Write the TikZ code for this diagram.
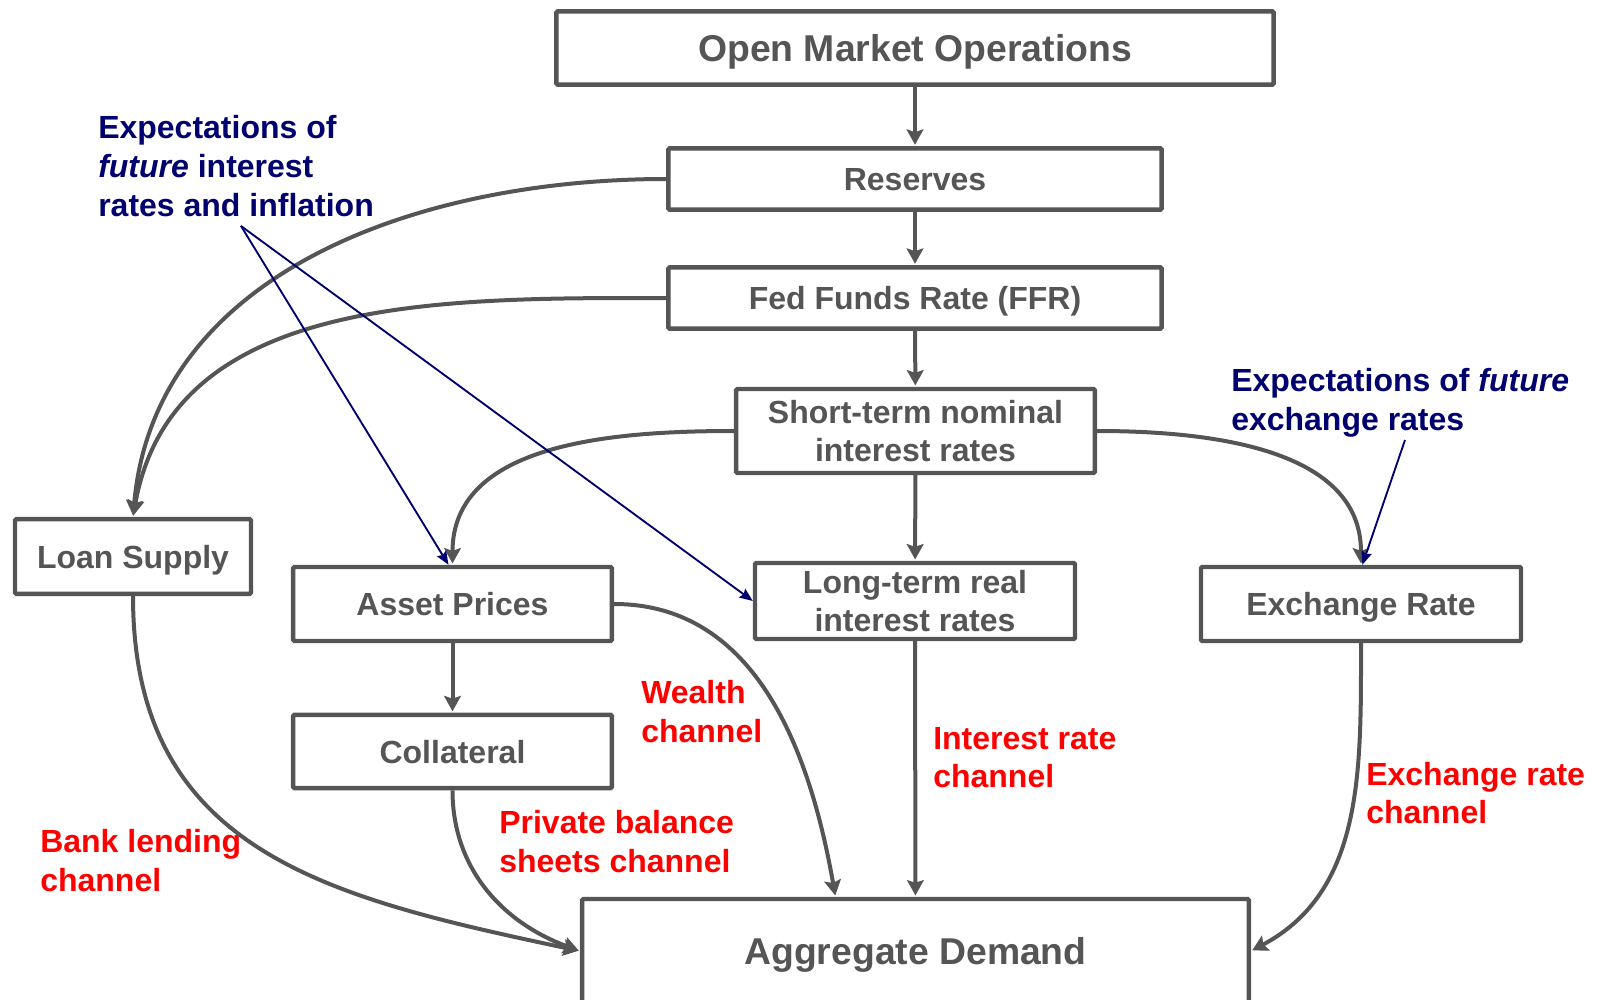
\documentclass[tikz,border=0pt]{standalone}
\usepackage{fontspec}
\setmainfont{Liberation Sans}
\usetikzlibrary{arrows.meta}

\definecolor{boxgray}{RGB}{85,85,85}
\definecolor{expblue}{RGB}{0,0,110}

\tikzset{
  box/.style={shape=rectangle, draw=boxgray, line width=3.3pt, rounded corners=1pt,
    text=boxgray, align=center, inner sep=0pt,
    font=\fontsize{24}{28.5}\selectfont\bfseries},
  bigbox/.style={box, font=\fontsize{28}{34}\selectfont\bfseries},
  single/.style={text depth=0pt},
  flow/.style={draw=boxgray, line width=3pt, shorten >=1pt,
    -{Stealth[length=11.5pt, width=12.5pt, inset=2pt]}},
  expect/.style={draw=expblue, line width=1.4pt,
    -{Stealth[length=10pt, width=8pt, inset=1.5pt]}},
  chanlabel/.style={text=red, anchor=west, align=left, inner sep=0pt,
    font=\fontsize{24}{29}\selectfont\bfseries},
  explabel/.style={chanlabel, text=expblue}
}

\begin{document}
\begin{tikzpicture}[x=0.75pt, y=-0.75pt]
\useasboundingbox (0,0) rectangle (1597,1000);

% boxes
\node[bigbox, single, minimum width=538pt, minimum height=55pt] (omo) at (915,48) {Open Market Operations};
\node[box, single, minimum width=370pt, minimum height=46pt] (res) at (915,179) {Reserves};
\node[box, single, minimum width=370pt, minimum height=46pt] (ffr) at (915,298) {Fed Funds Rate (FFR)};
\node[box, minimum width=269pt, minimum height=63pt] (short) at (915.5,431) {Short-term nominal\\interest rates};
\node[box, minimum width=240pt, minimum height=57pt] (long) at (915,601) {Long-term real\\interest rates};
\node[box, single, minimum width=240pt, minimum height=55.5pt] (exch) at (1361,604) {Exchange Rate};
\node[box, single, minimum width=239pt, minimum height=55.5pt] (asset) at (452.5,604) {Asset Prices};
\node[box, single, minimum width=239pt, minimum height=55pt] (coll) at (452.5,751.5) {Collateral};
\node[box, single, minimum width=177pt, minimum height=56pt] (loan) at (133,556.5) {Loan Supply};
\node[bigbox, single, minimum width=500pt, minimum height=78pt] (ad) at (915.5,951) {Aggregate Demand};

% expectations and channel labels
\node[explabel] (expint) at (98,166) {Expectations of\\\textit{future} interest\\rates and inflation};
\node[explabel] (expfx) at (1231,403) {Expectations of \textit{future}\\exchange rates};
\node[chanlabel] (wealth) at (641,711.5) {Wealth\\channel};
\node[chanlabel] (intrate) at (933,757.5) {Interest rate\\channel};
\node[chanlabel] (fxrate) at (1366,793) {Exchange rate\\channel};
\node[chanlabel] (private) at (499,841.5) {Private balance\\sheets channel};
\node[chanlabel] (bank) at (40,860.5) {Bank lending\\channel};

\coordinate (expintend) at (241,226);
\coordinate (expfxend) at (1405,440);

% main chain
\path (omo) edge[flow] (res);
\path (res) edge[flow] (ffr);
\path (ffr) edge[flow] (short);
\path (short) edge[flow] (long);
\path (long) edge[flow] (ad);
\path (asset) edge[flow] (coll);

% curved channels
\path (res.west) edge[flow, out=180, in=85] (loan.north);
\path (ffr.west) edge[flow, out=180, in=80] (loan.north);
\path (short.west) edge[flow, out=180, in=90] (asset.north);
\path (short.east) edge[flow, out=0, in=90] (exch.north);
\path (asset.east) edge[flow, out=0, in=100] ([xshift=-60pt]ad.north);
\path (loan.south) edge[flow, out=-90, in=168, looseness=1.15] (ad.west);
\path (coll.south) edge[flow, out=-90, in=160] (ad.west);
\path (exch.south) edge[flow, out=-90, in=28] (ad.east);

% expectations
\path (expintend) edge[expect] ([xshift=-3pt]asset.north);
\path (expintend) edge[expect] (long.west);
\path (expfxend) edge[expect] ([xshift=1pt]exch.north);
\end{tikzpicture}
\end{document}
